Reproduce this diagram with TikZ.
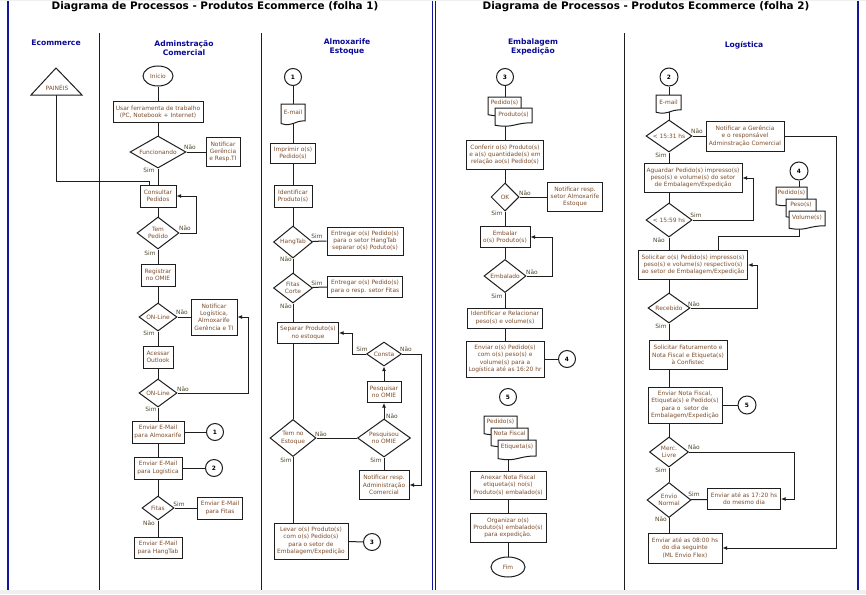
\documentclass[tikz,border=0pt]{standalone}
\usepackage{fontspec}
\setmainfont{DejaVu Sans}
\usetikzlibrary{shapes.geometric,arrows.meta,calc}
\pgfdeclarelayer{bg}\pgfdeclarelayer{ln}\pgfsetlayers{bg,ln,main}
\definecolor{txt}{RGB}{125,78,45}
\definecolor{lblc}{RGB}{80,72,45}
\definecolor{hdrb}{RGB}{10,10,150}
\definecolor{frameb}{RGB}{20,20,160}
\definecolor{ink}{RGB}{30,30,30}
\newcommand{\bxf}{\fontsize{5.9}{7.3}\selectfont}
\newcommand{\hdf}{\fontsize{7.6}{9.2}\selectfont\bfseries}
\newcommand{\ttlf}{\fontsize{10.4}{12}\selectfont\bfseries}
\newcommand{\docshape}[7]{%
  \path[draw=ink,line width=1pt,fill=white] (#2,#3) -- (#4,#3) -- (#4,{#3+0.8*#5})
    .. controls ({(#2+#4)/2},{#3+0.8*#5}) and ({(#2+#4)/2},{#3+1.11*#5}) .. (#2,{#3+0.93*#5}) -- cycle;
  \node[font=\bxf,text=txt,inner sep=0pt] (#1) at ({(#2+#4)/2},{#3+#6}) {#7};
}
\begin{document}
\begin{tikzpicture}[x=1pt,y=-1pt,
  box/.style={draw=ink, line width=1pt, fill=white, inner sep=0pt, align=center, font=\bxf, text=txt},
  dia/.style={diamond, draw=ink, line width=1pt, fill=white, inner sep=0pt},
  dlab/.style={font=\bxf, text=txt, align=center, inner sep=0pt},
  ell/.style={ellipse, draw=ink, line width=1pt, fill=white, inner sep=0pt, minimum height=20pt, font=\bxf, text=txt},
  circ/.style={circle, draw=ink, line width=1pt, fill=white, inner sep=0pt, minimum size=17pt, font=\bxf\bfseries, text=black},
  lb/.style={font=\bxf, text=lblc, inner sep=0pt},
  hdr/.style={font=\hdf, text=hdrb, align=center},
  conn/.style={draw=ink, line width=1pt},
  arr/.style={conn, -{Latex[length=4.5pt,width=4pt]}}]
\useasboundingbox (0,0) rectangle (866,594);

\begin{pgfonlayer}{bg}
  \fill[white] (0,0) rectangle (866,594);
  \fill[gray!12] (0,0) rectangle (866,1.5);
  \fill[gray!12] (0,590) rectangle (866,594);
  \draw[frameb, line width=1.3pt] (8,1.5) -- (8,590);
  \draw[frameb, line width=0.9pt] (432.3,1.5) -- (432.3,590);
  \draw[frameb, line width=0.9pt] (435,1.5) -- (435,590);
  \draw[frameb, line width=1.3pt] (858,1.5) -- (858,590);
  \draw[ink, line width=1pt] (99.5,33) -- (99.5,590) (261,33) -- (261,590) (624,33) -- (624,590);
\end{pgfonlayer}

% titles and headers
\node[font=\ttlf] (t1) at (215,7) {Diagrama de Processos - Produtos Ecommerce (folha 1)};
\node[font=\ttlf] (t2) at (646,7) {Diagrama de Processos - Produtos Ecommerce (folha 2)};
\node[hdr] (h1) at (56,43) {Ecommerce};
\node[hdr] (h2) at (184,48) {Adminstração\\Comercial};
\node[hdr] (h3) at (347,47) {Almoxarife\\Estoque};
\node[hdr] (h4) at (533,47) {Embalagem\\Expedição};
\node[hdr] (h5) at (744,45) {Logística};

% Ecommerce
\path[draw=ink,line width=1pt,fill=white] (31,95) -- (56,68) -- (82,95) -- cycle;
\node[font=\bxf,text=txt,inner sep=0pt] (pain) at (57,88) {PAINÉIS};
\coordinate (painb) at (56,95);

% Administracao Comercial
\node[ell, minimum width=30pt] (ini) at (158,76) {Início};
\node[box, minimum width=90pt, minimum height=21pt] (usar) at (158,112) {Usar ferramenta de trabalho\\(PC, Notebook + Internet)};
\node[dia, minimum width=56pt, minimum height=32pt, label={[dlab]center:Funcionando}] (func) at (158,152) {};
\node[box, minimum width=34pt, minimum height=29pt] (notg) at (223,152) {Notificar\\Gerência\\e Resp.TI};
\node[box, minimum width=36pt, minimum height=22pt] (cons) at (158,196) {Consultar\\Pedidos};
\node[dia, minimum width=42pt, minimum height=32pt, label={[dlab]center:Tem\\Pedido}] (temp) at (158,233) {};
\node[box, minimum width=34pt, minimum height=22pt] (reg) at (158,275) {Registrar\\no OMIE};
\node[dia, minimum width=38pt, minimum height=28pt, label={[dlab]center:ON-Line}] (on1) at (158,317) {};
\node[box, minimum width=46pt, minimum height=36pt] (notl) at (214,317) {Notificar\\Logística,\\Almoxarife\\Gerência e TI};
\node[box, minimum width=30pt, minimum height=22pt] (aces) at (158,357) {Acessar\\Outlook};
\node[dia, minimum width=38pt, minimum height=28pt, label={[dlab]center:ON-Line}] (on2) at (158,393) {};
\node[box, minimum width=52pt, minimum height=22pt] (envA) at (158,432) {Enviar E-Mail\\para Almoxarife};
\node[circ] (c1a) at (215,432) {1};
\node[box, minimum width=48pt, minimum height=22pt] (envL) at (158,468) {Enviar E-Mail\\para Logística};
\node[circ] (c2a) at (214,468) {2};
\node[dia, minimum width=32pt, minimum height=24pt, label={[dlab]center:Fitas}] (fit) at (158,508) {};
\node[box, minimum width=45pt, minimum height=22pt] (envF) at (220,508) {Enviar E-Mail\\para Fitas};
\node[box, minimum width=48pt, minimum height=21pt] (envH) at (158,548) {Enviar E-Mail\\para HangTab};

\node[lb] (l1) at (190,147) {Não};
\node[lb] (l2) at (149,170) {Sim};
\node[lb] (l3) at (185,228) {Não};
\node[lb] (l4) at (150,253) {Sim};
\node[lb] (l5) at (182,312) {Não};
\node[lb] (l6) at (149,333) {Sim};
\node[lb] (l7) at (183,389) {Não};
\node[lb] (l8) at (151,409) {Sim};
\node[lb] (l9) at (179,504) {Sim};
\node[lb] (l10) at (149,523) {Não};

% Almoxarife Estoque
\node[circ] (c1b) at (293,77) {1};
\docshape{em1}{281}{104}{305}{21}{8}{E-mail}
\node[box, minimum width=45pt, minimum height=20pt] (impr) at (293,153) {Imprimir o(s)\\Pedido(s)};
\node[box, minimum width=38pt, minimum height=22pt] (iden) at (293,196) {Identificar\\Produto(s)};
\node[dia, minimum width=39pt, minimum height=32pt, label={[dlab]center:HangTab}] (hang) at (293,242) {};
\node[box, minimum width=76pt, minimum height=28pt] (entH) at (365,241) {Entregar o(s) Pedido(s)\\para o setor HangTab\\separar o(s) Poduto(s)};
\node[dia, minimum width=39pt, minimum height=30pt, label={[dlab]center:Fitas\\Corte}] (fcor) at (293,288) {};
\node[box, minimum width=75pt, minimum height=21pt] (entF) at (365,287) {Entregar o(s) Pedido(s)\\para o resp. setor Fitas};
\node[box, minimum width=61pt, minimum height=21pt] (sep) at (308,333) {Separar Produto(s)\\no estoque};
\node[dia, minimum width=35pt, minimum height=24pt, label={[dlab]center:Consta}] (consta) at (384,354) {};
\node[box, minimum width=34pt, minimum height=21pt] (pesq) at (384,392) {Pesquisar\\no OMIE};
\node[dia, minimum width=53pt, minimum height=38pt, label={[dlab]center:Pesquisou\\no OMIE}] (pesqd) at (384,438) {};
\node[dia, minimum width=46pt, minimum height=37pt, label={[dlab]center:Tem no\\Estoque}] (temE) at (293,438) {};
\node[box, minimum width=50pt, minimum height=29pt] (notA) at (384,485) {Notificar resp.\\Administração\\Comercial};
\node[box, minimum width=74pt, minimum height=36pt] (levar) at (311,541) {Levar o(s) Produto(s)\\com o(s) Pedido(s)\\para o setor de\\Embalagem/Expedição};
\node[circ] (c3a) at (372,542) {3};

\node[lb] (m1) at (317,236) {Sim};
\node[lb] (m2) at (286,259) {Não};
\node[lb] (m3) at (317,283) {Sim};
\node[lb] (m4) at (286,306) {Não};
\node[lb] (m5) at (362,349) {Sim};
\node[lb] (m6) at (406,349) {Não};
\node[lb] (m7) at (392,416) {Não};
\node[lb] (m8) at (321,434) {Não};
\node[lb] (m9) at (286,460) {Sim};
\node[lb] (m10) at (376,460) {Sim};

% Embalagem Expedicao
\node[circ] (c3b) at (505,77) {3};
\docshape{dpe1}{488}{97}{521}{19}{5.5}{Pedido(s)}
\docshape{dpr1}{495}{108}{532}{18.5}{7}{Produto(s)}
\node[box, minimum width=77pt, minimum height=29pt] (conf) at (505,155) {Conferir o(s) Produto(s)\\e a(s) quantidade(s) em\\relação ao(s) Pedido(s)};
\node[dia, minimum width=28pt, minimum height=28pt, label={[dlab]center:OK}] (ok) at (505,197) {};
\node[box, minimum width=55pt, minimum height=29pt] (notE) at (575,197) {Notificar resp.\\setor Almoxarife\\Estoque};
\node[box, minimum width=50pt, minimum height=21pt] (emb) at (505,237) {Embalar\\o(s) Produto(s)};
\node[dia, minimum width=42pt, minimum height=33pt, label={[dlab]center:Embalado}] (embd) at (505,276) {};
\node[box, minimum width=75pt, minimum height=20pt] (idr) at (505,318) {Identificar e Relacionar\\peso(s) e volume(s)};
\node[box, minimum width=78pt, minimum height=36pt] (envP) at (505,359) {Enviar o(s) Pedido(s)\\com o(s) peso(s) e\\volume(s) para a\\Logística até as 16:20 hr};
\node[circ] (c4a) at (567,359) {4};
\node[circ] (c5a) at (508,397) {5};
\docshape{dpe2}{484}{416}{517}{19}{5.5}{Pedido(s)}
\docshape{dnf2}{491}{428}{528}{19}{5.5}{Nota Fiscal}
\docshape{det2}{498}{440}{536}{20}{7}{Etiqueta(s)}
\node[box, minimum width=76pt, minimum height=28pt] (anex) at (508,485) {Anexar Nota Fiscal\\etiqueta(s) no(s)\\Produto(s) embalado(s)};
\node[box, minimum width=76pt, minimum height=29pt] (org) at (508,528) {Organizar o(s)\\Produto(s) embalado(s)\\para expedição.};
\node[ell, minimum width=34pt] (fim) at (508,567) {Fim};

\node[lb] (e1) at (525,193) {Não};
\node[lb] (e2) at (497,213) {Sim};
\node[lb] (e3) at (532,272) {Não};
\node[lb] (e4) at (497,296) {Sim};

% Logistica
\node[circ, minimum size=18pt] (c2b) at (669,77) {2};
\docshape{em2}{656}{95}{681}{18.5}{7}{E-mail}
\node[dia, minimum width=46pt, minimum height=32pt, label={[dlab]center:{< 15:31 hs}}] (t1531) at (669,136) {};
\node[box, minimum width=78pt, minimum height=30pt] (notG) at (745,136) {Notificar a Gerência\\e o responsável\\Adminstração Comercial};
\node[box, minimum width=98pt, minimum height=29pt] (agu) at (693,178) {Aguardar Pedido(s) impresso(s)\\peso(s) e volume(s) do setor\\de Embalagem/Expedição};
\node[dia, minimum width=46pt, minimum height=34pt, label={[dlab]center:{< 15:59 hs}}] (t1559) at (669,220) {};
\node[circ, minimum size=18pt] (c4b) at (799,171) {4};
\docshape{dpe3}{776}{187}{807}{19}{5.5}{Pedido(s)}
\docshape{dps3}{786}{199}{816}{19}{5.5}{Peso(s)}
\docshape{dvo3}{789}{211}{825}{18.5}{7}{Volume(s)}
\node[box, minimum width=109pt, minimum height=29pt] (sol) at (693,265) {Solicitar o(s) Pedido(s) impresso(s)\\peso(s) e volume(s) respectivo(s)\\ao setor de Embalagem/Expedição};
\node[dia, minimum width=42pt, minimum height=30pt, label={[dlab]center:Recebido}] (rec) at (669,308) {};
\node[box, minimum width=78pt, minimum height=29pt] (fat) at (688,355) {Solicitar Faturamento e\\Nota Fiscal e Etiqueta(s)\\à Confistec};
\node[box, minimum width=74pt, minimum height=36pt] (envN) at (685,405) {Enviar Nota Fiscal,\\Etiqueta(s) e Pedido(s)\\para o\ \ setor de\\Embalagem/Expedição};
\node[circ, minimum size=18pt] (c5b) at (747,405) {5};
\node[dia, minimum width=39pt, minimum height=30pt, label={[dlab]center:Merc.\\Livre}] (merc) at (669,452) {};
\node[dia, minimum width=44pt, minimum height=35pt, label={[dlab]center:Envio\\Normal}] (envio) at (669,500) {};
\node[box, minimum width=73pt, minimum height=21pt] (e1720) at (744,499) {Enviar até as 17:20 hs\\do mesmo dia};
\node[box, minimum width=74pt, minimum height=30pt] (e0800) at (685,548) {Enviar até as 08:00 hs\\do dia seguinte\\(ML Envio Flex)};

\node[lb] (g1) at (697,131) {Não};
\node[lb] (g2) at (661,155) {Sim};
\node[lb] (g3) at (696,215) {Sim};
\node[lb] (g4) at (659,240) {Não};
\node[lb] (g5) at (694,304) {Não};
\node[lb] (g6) at (661,326) {Sim};
\node[lb] (g7) at (694,447) {Não};
\node[lb] (g8) at (661,470) {Sim};
\node[lb] (g9) at (694,494) {Sim};
\node[lb] (g10) at (661,519) {Não};

% connectors
\begin{pgfonlayer}{ln}
  % Ecommerce
  \draw[conn] (painb) -- ++(0,86) -| ([xshift=-9pt]cons.north);
  % Admin
  \draw[conn] (ini) -- (usar) -- (func) -- (cons) -- (temp) -- (reg) -- (on1) -- (aces) -- (on2) -- (envA) -- (envL) -- (fit) -- (envH);
  \draw[conn] (func) -- (notg);
  \draw[arr] (temp.east) -- ++(17,0) |- (cons.east);
  \draw[conn] (on1) -- (notl);
  \draw[arr] (on2.east) -- ++(71,0) |- (notl.east);
  \draw[conn] (envA) -- (c1a);
  \draw[conn] (envL) -- (c2a);
  \draw[conn] (fit) -- (envF);
  % Almoxarife
  \draw[conn] (c1b) -- (impr) -- (iden) -- (hang) -- (fcor);
  \draw[conn] (hang) -- (entH.west);
  \draw[conn] (fcor) -- (entF.west);
  \draw[conn] (fcor.south) -- (fcor.south |- sep.north);
  \draw[conn] (temE.north |- sep.south) -- (temE.north);
  \draw[conn] (temE.south) -- (temE.south |- levar.north);
  \draw[conn] (temE) -- (pesqd);
  \draw[arr] (pesqd.north) -- (pesq.south);
  \draw[arr] (pesq.north) -- (consta.south);
  \draw[arr] (consta.west) -- ++(-14,0) |- (sep.east);
  \draw[arr] (consta.east) -- ++(19.5,0) |- (notA.east);
  \draw[conn] (pesqd) -- (notA);
  \draw[conn] (levar) -- (c3a);
  % Embalagem
  \draw[conn] (c3b) -- (conf) -- (ok) -- (emb) -- (embd) -- (idr) -- (envP);
  \draw[conn] (ok) -- (notE);
  \draw[arr] (embd.east) -- ++(26,0) |- (emb.east);
  \draw[conn] (envP) -- (c4a);
  \draw[conn] (anex.north) -- ++(0,-20);
  \draw[conn] (anex) -- (org) -- (fim);
  % Logistica
  \draw[conn] (c2b) -- (t1531);
  \draw[conn] (t1531) -- (notG);
  \draw[arr] (notG.east) -- ++(52,0) |- (e0800.east);
  \draw[conn] (t1531.south) -- (t1531.south |- agu.north);
  \draw[conn] (t1559.north |- agu.south) -- (t1559.north);
  \draw[arr] (t1559.east) -- ++(61,0) |- (agu.east);
  \draw[conn] (t1559.south) -- (t1559.south |- sol.north);
  \draw[conn] (c4b.south) -- ++(0,56) -| ([xshift=25pt]sol.north);
  \draw[conn] (rec.north |- sol.south) -- (rec.north);
  \draw[arr] (rec.east) -- ++(67,0) |- (sol.east);
  \draw[conn] (rec.south) -- (rec.south |- fat.north);
  \draw[conn] (rec.south |- fat.south) -- (rec.south |- envN.north);
  \draw[conn] (envN) -- (c5b);
  \draw[conn] (merc.north |- envN.south) -- (merc.north);
  \draw[conn] (merc) -- (envio);
  \draw[arr] (merc.east) -- ++(105.5,0) |- (e1720.east);
  \draw[conn] (envio) -- (e1720);
  \draw[conn] (envio.south) -- (envio.south |- e0800.north);
\end{pgfonlayer}
\end{tikzpicture}
\end{document}
